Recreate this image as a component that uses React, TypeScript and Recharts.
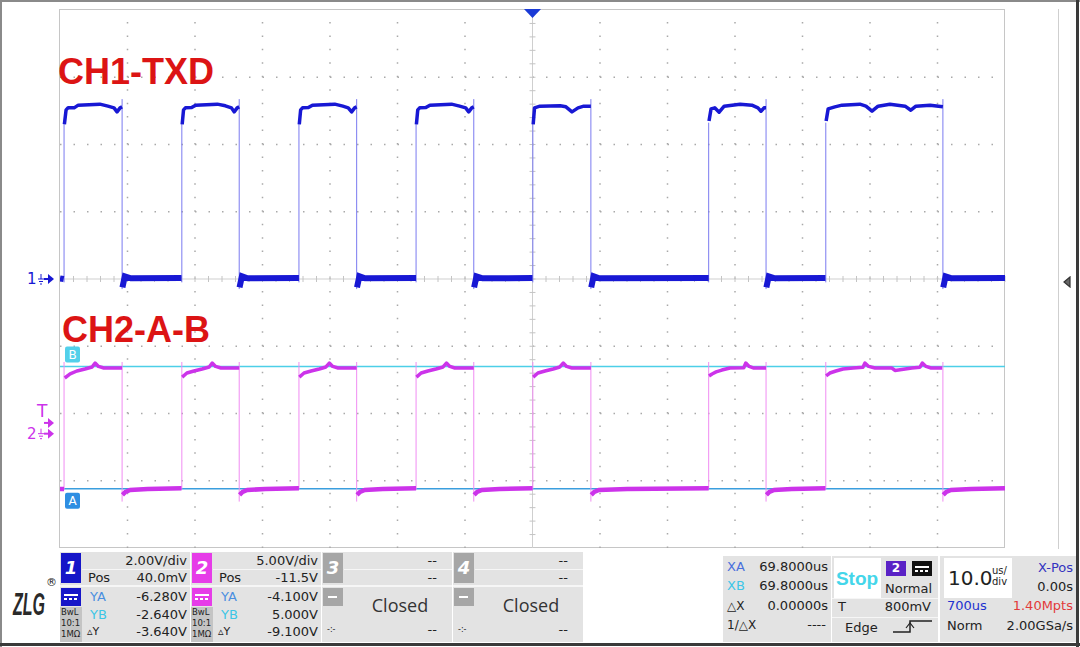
import React from 'react';
import { LineChart, Line, XAxis, YAxis, ReferenceLine } from 'recharts';

// 10 us/div, 14 div across; CH1 2 V/div, CH2 5 V/div with Pos -11.5 V
const timeGrid = [-60, -50, -40, -30, -20, -10, 10, 20, 30, 40, 50, 60];
const ch1VoltGrid = [-6, -4, -2, 2, 4, 6];

// CH1-TXD, high parts of each pulse [us, V]
const ch1High = [
  [[-69.35, 4.6], [-69.1, 5.03], [-68.8, 5.09], [-67.9, 5.09], [-67.3, 5.17], [-64.1, 5.2], [-62.9, 5.14], [-62.0, 5.09], [-61.55, 4.97], [-61.1, 5.09], [-60.8, 5.12]],
  [[-51.9, 4.6], [-51.7, 5.03], [-51.4, 5.09], [-50.5, 5.1], [-49.9, 5.17], [-46.7, 5.2], [-45.5, 5.15], [-44.6, 5.09], [-44.2, 4.97], [-43.75, 5.09], [-43.45, 5.12]],
  [[-34.55, 4.6], [-34.35, 5.03], [-34.05, 5.09], [-33.2, 5.1], [-32.6, 5.17], [-29.3, 5.2], [-28.1, 5.14], [-27.3, 5.09], [-26.8, 4.97], [-26.35, 5.09], [-26.05, 5.12]],
  [[-17.2, 4.6], [-17.0, 5.03], [-16.7, 5.09], [-15.8, 5.1], [-15.2, 5.17], [-12.0, 5.2], [-10.8, 5.14], [-9.9, 5.09], [-9.45, 4.97], [-9.0, 5.09], [-8.7, 5.12]],
  [[0.1, 4.6], [0.3, 5.09], [1.1, 5.14], [4.1, 5.15], [4.95, 5.12], [5.85, 4.97], [6.75, 5.09], [7.6, 5.14], [8.65, 5.14]],
  [[26.15, 4.7], [26.45, 5.06], [27.0, 5.09], [27.65, 4.96], [28.4, 5.14], [30.75, 5.2], [32.5, 5.17], [33.4, 5.09], [33.85, 4.99], [34.3, 5.09], [34.6, 5.09]],
  [[43.5, 4.7], [43.8, 5.06], [44.8, 5.12], [45.85, 5.17], [48.5, 5.2], [49.4, 5.14], [50.3, 4.99], [51.2, 5.14], [52.95, 5.2], [55.2, 5.14], [56.05, 5.02], [56.8, 5.14], [58.9, 5.17], [60.8, 5.12]],
];

const ch1Low = [
  [[-70, 0.02], [-69.45, 0.0]],
  [[-60.75, -0.25], [-60.4, 0.08], [-59.5, 0.02], [-52.0, 0.03]],
  [[-43.4, -0.25], [-43.05, 0.08], [-42.2, 0.02], [-34.6, 0.03]],
  [[-26.0, -0.25], [-25.65, 0.08], [-24.8, 0.02], [-17.25, 0.03]],
  [[-8.65, -0.25], [-8.3, 0.08], [-7.4, 0.02], [0.0, 0.03]],
  [[8.7, -0.25], [9.05, 0.08], [9.9, 0.02], [26.1, 0.03]],
  [[34.65, -0.25], [35.0, 0.08], [35.9, 0.02], [43.4, 0.03]],
  [[60.85, -0.25], [61.2, 0.08], [62.1, 0.02], [70, 0.03]],
];

// [us, from V, to V]
const ch1Edges = [
  [-69.4, -0.1, 4.65], [-60.8, 5.35, -0.3], [-51.95, -0.1, 4.65], [-43.45, 5.35, -0.3],
  [-34.6, -0.1, 4.65], [-26.05, 5.35, -0.3], [-17.25, -0.1, 4.65], [-8.7, 5.35, -0.3],
  [0.05, -0.1, 4.65], [8.65, 5.35, -0.3], [26.1, -0.1, 4.65], [34.6, 5.35, -0.3],
  [43.45, -0.1, 4.65], [60.8, 5.35, -0.3],
];

// CH2-A-B
const ch2High = [
  [[-69.3, 4.14], [-68.5, 4.44], [-67.5, 4.66], [-66.3, 4.81], [-65.25, 4.96], [-64.8, 5.25], [-64.3, 5.0], [-63.5, 4.88], [-60.8, 4.88]],
  [[-51.9, 4.21], [-51.2, 4.51], [-50.15, 4.66], [-48.95, 4.81], [-47.9, 4.96], [-47.45, 5.25], [-46.95, 5.0], [-46.15, 4.88], [-43.45, 4.88]],
  [[-34.55, 4.21], [-33.85, 4.51], [-32.8, 4.66], [-31.6, 4.81], [-30.6, 4.96], [-30.1, 5.25], [-29.6, 5.0], [-28.8, 4.88], [-26.05, 4.88]],
  [[-17.2, 4.21], [-16.5, 4.51], [-15.5, 4.66], [-14.3, 4.81], [-13.25, 4.96], [-12.75, 5.25], [-12.25, 5.0], [-11.5, 4.88], [-8.7, 4.88]],
  [[0.1, 4.21], [0.8, 4.51], [1.85, 4.66], [3.05, 4.81], [4.05, 4.96], [4.55, 5.25], [5.05, 5.0], [5.85, 4.88], [8.65, 4.88]],
  [[26.15, 4.29], [26.6, 4.44], [27.2, 4.59], [28.05, 4.73], [29.25, 4.88], [31.3, 4.9], [31.6, 5.25], [32.1, 5.0], [32.8, 4.88], [34.6, 4.88]],
  [[43.5, 4.29], [44.05, 4.51], [44.95, 4.66], [46.0, 4.81], [47.5, 4.88], [48.95, 4.94], [49.25, 5.25], [49.8, 5.0], [50.75, 4.88], [53.25, 4.88], [53.7, 4.7], [54.45, 4.76], [56.2, 4.88], [57.4, 4.94], [57.75, 5.25], [58.3, 5.0], [59.05, 4.88], [60.7, 4.88]],
];

const ch2Low = [
  [[-70, -4.11], [-69.4, -4.11]],
  [[-60.75, -4.55], [-60.3, -4.33], [-59.6, -4.19], [-57.0, -4.11], [-52.0, -4.05]],
  [[-43.4, -4.55], [-42.95, -4.33], [-42.25, -4.19], [-39.6, -4.11], [-34.6, -4.05]],
  [[-26.0, -4.55], [-25.55, -4.33], [-24.85, -4.19], [-22.2, -4.11], [-17.25, -4.05]],
  [[-8.65, -4.55], [-8.2, -4.33], [-7.5, -4.19], [-4.9, -4.11], [0.0, -4.05]],
  [[8.7, -4.55], [9.15, -4.33], [9.85, -4.19], [14.0, -4.11], [26.1, -4.05]],
  [[34.65, -4.55], [35.1, -4.33], [35.8, -4.19], [38.4, -4.11], [43.4, -4.05]],
  [[60.85, -4.55], [61.3, -4.33], [62.0, -4.19], [65.0, -4.11], [70, -4.05]],
];

const ch2Edges = [
  [-69.4, -4.15, 5.33], [-60.8, 5.33, -5.05], [-51.95, -4.15, 5.33], [-43.45, 5.33, -5.05],
  [-34.6, -4.15, 5.33], [-26.05, 5.33, -5.05], [-17.25, -4.15, 5.33], [-8.7, 5.33, -5.05],
  [0.05, -4.15, 5.33], [8.65, 5.33, -5.05], [26.1, -4.15, 5.33], [34.6, 5.33, -5.05],
  [43.45, -4.15, 5.33], [60.8, 5.33, -5.05],
];

const cursorA = -4.1;
const cursorB = 5.0;
const triggerLevel = 0.8;

const BLUE = '#1818d4';
const MAGENTA = '#cc33ea';

type Pt = { t: number; v: number | null };

const joinSegments = (segs: number[][][]): Pt[] =>
  segs.flatMap((seg) => [
    ...seg.map(([t, v]) => ({ t, v })),
    { t: seg[seg.length - 1][0], v: null },
  ]);

const edgePoints = (edges: number[][]): Pt[] =>
  edges.flatMap(([t, a, b]) => [{ t, v: a }, { t, v: b }, { t, v: null }]);

// minor ticks on the centre cross (every 1/5 div)
const centreTimeTicks = Array.from({ length: 71 }, (_, i) => -70 + i * 2);
const centreVoltTicks = Array.from({ length: 39 }, (_, i) => -7.6 + i * 0.4);

const leftOf = (vb: any) => Math.min(vb.x, vb.x + (vb.width || 0));

const GroundMarker = ({ vb, label, color }: { vb: any; label: string; color: string }) => {
  if (!vb) return null;
  const x0 = leftOf(vb);
  const y0 = vb.y;
  return (
    <g>
      <text x={x0 - 33} y={y0 + 5} fontSize={15} fontFamily="DejaVu Sans" fill={color}>{label}</text>
      <path d={`M${x0 - 19} ${y0 - 5} v5 M${x0 - 22} ${y0} h6 M${x0 - 21} ${y0 + 2.5} h4 M${x0 - 20} ${y0 + 5} h2`} stroke={color} strokeWidth={1} fill="none" />
      <path d={`M${x0 - 16} ${y0} h5`} stroke={color} strokeWidth={2} />
      <polygon points={`${x0 - 12},${y0 - 5} ${x0 - 6},${y0} ${x0 - 12},${y0 + 5}`} fill={color} />
    </g>
  );
};

const TrigMarker = ({ vb }: { vb: any }) => {
  if (!vb) return null;
  const x0 = leftOf(vb);
  const y0 = vb.y;
  return (
    <g>
      <text x={x0 - 23} y={y0 - 6} fontSize={17} fontFamily="DejaVu Sans" fill={MAGENTA}>T</text>
      <path d={`M${x0 - 16} ${y0} h5`} stroke={MAGENTA} strokeWidth={2} />
      <polygon points={`${x0 - 12},${y0 - 5} ${x0 - 6},${y0} ${x0 - 12},${y0 + 5}`} fill={MAGENTA} />
    </g>
  );
};

const CursorTag = ({ vb, text, fill, above }: { vb: any; text: string; fill: string; above: boolean }) => {
  if (!vb) return null;
  const x0 = leftOf(vb) + 5;
  const y0 = above ? vb.y - 20 : vb.y + 4;
  return (
    <g>
      <rect x={x0} y={y0} width={15} height={16} rx={2} fill={fill} />
      <text x={x0 + 7.5} y={y0 + 12.5} textAnchor="middle" fontSize={12} fontFamily="DejaVu Sans" fill="#ffffff">{text}</text>
    </g>
  );
};

const TopTrigger = ({ vb }: { vb: any }) => {
  if (!vb) return null;
  const x0 = vb.x;
  const y0 = Math.min(vb.y, vb.y + (vb.height || 0));
  return <polygon points={`${x0 - 8.5},${y0 - 1} ${x0 + 8.5},${y0 - 1} ${x0},${y0 + 8}`} fill="#1a3ad6" />;
};

const Txt = ({ x, y, children, align = 'left', size = 13, color = '#222', weight = 400, family = 'DejaVu Sans', italic = false }: any) => {
  const pos: any =
    align === 'right' ? { right: 1080 - x } : align === 'center' ? { left: x - 100, width: 200, textAlign: 'center' } : { left: x };
  return (
    <div style={{ position: 'absolute', top: y - size * 0.6, height: size * 1.2, lineHeight: `${size * 1.2}px`, fontSize: size, color, fontWeight: weight, fontFamily: family, fontStyle: italic ? 'italic' : 'normal', whiteSpace: 'nowrap', ...pos }}>
      {children}
    </div>
  );
};

const Box = ({ x, y, w, h, bg, style }: any) => (
  <div style={{ position: 'absolute', left: x, top: y, width: w, height: h, background: bg, ...style }} />
);

const ChannelPanel = ({ x, n, color, vdiv, pos, ya, yb, dy }: any) => (
  <>
    <Box x={x} y={552} w={130} h={90} bg="#e3e3e3" />
    <Box x={x + 1} y={553} w={20} h={30} bg={color} />
    <Txt x={x + 11} y={568} align="center" size={18} color="#fff" weight={700} italic>{n}</Txt>
    <Box x={x + 22} y={569} w={108} h={1} bg="#f6f6f6" />
    <Box x={x} y={585} w={130} h={2} bg="#f6f6f6" />
    <Txt x={x + 127} y={561} align="right">{vdiv}</Txt>
    <Txt x={x + 28} y={578}>Pos</Txt>
    <Txt x={x + 127} y={578} align="right">{pos}</Txt>
    <Box x={x + 1} y={588} w={20} h={18} bg={color} />
    <Box x={x + 4} y={594} w={14} h={1.5} bg="#fff" />
    <Box x={x + 4} y={598} w={14} h={1.5} bg="#fff" style={{ background: 'repeating-linear-gradient(90deg,#fff 0 3px,transparent 3px 5px)' }} />
    <Box x={x} y={607} w={22} h={35} bg="#c4c4c4" />
    <Txt x={x + 1} y={612} size={8.5}>BwL</Txt>
    <Txt x={x + 1} y={623} size={8.5}>10:1</Txt>
    <Txt x={x + 1} y={634} size={8.5}>1MΩ</Txt>
    <Txt x={x + 30} y={597} color="#4a8ee0">YA</Txt>
    <Txt x={x + 127} y={597} align="right">{ya}</Txt>
    <Txt x={x + 30} y={615} color="#3cc6e6">YB</Txt>
    <Txt x={x + 127} y={615} align="right">{yb}</Txt>
    <Txt x={x + 27} y={632} size={11}>▵Y</Txt>
    <Txt x={x + 127} y={632} align="right">{dy}</Txt>
  </>
);

const ClosedPanel = ({ x, n }: any) => (
  <>
    <Box x={x} y={552} w={130} h={90} bg="#e3e3e3" />
    <Box x={x + 1} y={553} w={20} h={30} bg="#a6a6a6" />
    <Txt x={x + 11} y={568} align="center" size={18} color="#fff" weight={700} italic>{n}</Txt>
    <Box x={x + 22} y={569} w={108} h={1} bg="#f6f6f6" />
    <Box x={x} y={585} w={130} h={2} bg="#f6f6f6" />
    <Txt x={x + 115} y={561} align="right">--</Txt>
    <Txt x={x + 115} y={578} align="right">--</Txt>
    <Box x={x + 1} y={588} w={20} h={18} bg="#a6a6a6" />
    <Box x={x + 6} y={596} w={9} h={1.5} bg="#fff" />
    <Txt x={x + 78} y={606} align="center" size={18} color="#333" family="Open Sans">Closed</Txt>
    <Txt x={x + 5} y={630} size={8}>-:-</Txt>
    <Txt x={x + 115} y={630} align="right">--</Txt>
  </>
);

export default function App() {
  return (
    <div style={{ position: 'relative', width: 1080, height: 647, background: '#fff', overflow: 'hidden' }}>
      <style>{'body{margin:0}'}</style>
      {/* outer frame */}
      <Box x={0} y={0} w={1080} h={2} bg="#8a8a8a" />
      <Box x={0} y={0} w={2} h={647} bg="#8a8a8a" />
      <Box x={1076} y={0} w={3} h={647} bg="#3a3a3a" />
      <Box x={0} y={643} w={1080} h={3} bg="#3a3a3a" />
      {/* screen border */}
      <Box x={59} y={9} w={946} h={539} bg="#fff" style={{ border: '1px solid #c6c6c6', boxSizing: 'border-box' }} />
      <Box x={1058} y={9} w={1} h={540} bg="#cfcfcf" />
      <svg style={{ position: 'absolute', left: 1063, top: 276 }} width={10} height={12}>
        <polygon points="7,1 1,6 7,11" fill="#666" stroke="#333" strokeWidth={1.2} />
      </svg>

      <div style={{ position: 'absolute', left: 0, top: 0 }}>
        <LineChart width={1080} height={647} margin={{ top: 10, right: 75, bottom: 99, left: 60 }}>
          <XAxis type="number" dataKey="t" domain={[-70, 70]} allowDataOverflow hide />
          <YAxis yAxisId="ch1" type="number" domain={[-8, 8]} allowDataOverflow hide />
          <YAxis yAxisId="ch2" type="number" domain={[-8.5, 31.5]} allowDataOverflow hide />

          {timeGrid.map((t) => (
            <ReferenceLine key={`gx${t}`} yAxisId="ch1" x={t} stroke="#a9a9a9" strokeWidth={1.5} strokeDasharray="1.5 11.95" />
          ))}
          {ch1VoltGrid.map((v) => (
            <ReferenceLine key={`gy${v}`} yAxisId="ch1" y={v} stroke="#a9a9a9" strokeWidth={1.5} strokeDasharray="1.5 12" />
          ))}
          <ReferenceLine yAxisId="ch1" x={0} stroke="#cfcfcf" label={(p: any) => <TopTrigger vb={p.viewBox} />} />
          <ReferenceLine yAxisId="ch1" y={0} stroke="#cfcfcf" label={(p: any) => <GroundMarker vb={p.viewBox} label="1" color={BLUE} />} />
          {centreTimeTicks.map((t) => (
            <ReferenceLine key={`ct${t}`} yAxisId="ch1" segment={[{ x: t, y: -0.09 }, { x: t, y: 0.09 }]} stroke="#c4c4c4" />
          ))}
          {centreVoltTicks.map((v) => (
            <ReferenceLine key={`cv${v}`} yAxisId="ch1" segment={[{ x: -0.44, y: v }, { x: 0.44, y: v }]} stroke="#c4c4c4" />
          ))}

          <ReferenceLine yAxisId="ch2" y={cursorB} stroke="#4ccfe8" strokeWidth={1.5} label={(p: any) => <CursorTag vb={p.viewBox} text="B" fill="#52d0ea" above />} />
          <ReferenceLine yAxisId="ch2" y={cursorA} stroke="#3a9ede" strokeWidth={1.5} label={(p: any) => <CursorTag vb={p.viewBox} text="A" fill="#2f8ee2" above={false} />} />
          <ReferenceLine yAxisId="ch2" y={triggerLevel} stroke="none" label={(p: any) => <TrigMarker vb={p.viewBox} />} />
          <ReferenceLine yAxisId="ch2" y={0} stroke="none" label={(p: any) => <GroundMarker vb={p.viewBox} label="2" color={MAGENTA} />} />

          <Line yAxisId="ch1" data={edgePoints(ch1Edges)} dataKey="v" stroke="#7a7af0" strokeWidth={1} dot={false} activeDot={false} isAnimationActive={false} />
          <Line yAxisId="ch1" data={joinSegments(ch1Low)} dataKey="v" stroke={BLUE} strokeWidth={6} dot={false} activeDot={false} isAnimationActive={false} />
          <Line yAxisId="ch1" data={joinSegments(ch1High)} dataKey="v" stroke={BLUE} strokeWidth={3.5} strokeLinejoin="round" dot={false} activeDot={false} isAnimationActive={false} />

          <Line yAxisId="ch2" data={edgePoints(ch2Edges)} dataKey="v" stroke="#f08cf2" strokeWidth={1} dot={false} activeDot={false} isAnimationActive={false} />
          <Line yAxisId="ch2" data={joinSegments(ch2Low)} dataKey="v" stroke={MAGENTA} strokeWidth={4.5} dot={false} activeDot={false} isAnimationActive={false} />
          <Line yAxisId="ch2" data={joinSegments(ch2High)} dataKey="v" stroke={MAGENTA} strokeWidth={3.5} strokeLinejoin="round" dot={false} activeDot={false} isAnimationActive={false} />
        </LineChart>
      </div>

      <svg style={{ position: 'absolute', left: 0, top: 0, pointerEvents: 'none' }} width={1080} height={360}>
        <text x={58} y={84} fontSize={36} fontWeight={700} fontFamily="Liberation Sans" fill="#dc1414">CH1-TXD</text>
        <text x={62} y={342} fontSize={36} fontWeight={700} fontFamily="Liberation Sans" fill="#dc1414">CH2-A-B</text>
      </svg>

      {/* status bar */}
      <svg style={{ position: 'absolute', left: 0, top: 570 }} width={58} height={60}>
        <text transform="translate(13 45) scale(0.5 1)" fontSize={32} fontWeight={700} fontStyle="italic" fontFamily="Liberation Sans" fill="#2a2a2a">ZLG</text>
        <text x={46} y={16} fontSize={11} fontFamily="DejaVu Sans" fill="#222">®</text>
      </svg>
      <ChannelPanel x={60} n="1" color="#1616c8" vdiv="2.00V/div" pos="40.0mV" ya="-6.280V" yb="-2.640V" dy="-3.640V" />
      <ChannelPanel x={191} n="2" color="#e63ce8" vdiv="5.00V/div" pos="-11.5V" ya="-4.100V" yb="5.000V" dy="-9.100V" />
      <ClosedPanel x={322} n="3" />
      <ClosedPanel x={453} n="4" />

      {/* cursors */}
      <Box x={723} y={556} w={108} h={86} bg="#e3e3e3" />
      <Txt x={727} y={567} color="#4a70dc">XA</Txt>
      <Txt x={828} y={567} align="right">69.8000us</Txt>
      <Txt x={727} y={586} color="#3ec6e8">XB</Txt>
      <Txt x={828} y={586} align="right">69.8000us</Txt>
      <Txt x={727} y={606} size={12}>△X</Txt>
      <Txt x={828} y={606} align="right">0.00000s</Txt>
      <Txt x={727} y={625} size={12}>1/△X</Txt>
      <Txt x={826} y={625} align="right">----</Txt>

      {/* trigger */}
      <Box x={832} y={556} w={106} h={86} bg="#e3e3e3" />
      <Box x={834} y={558} w={47} h={40} bg="#fff" />
      <Txt x={857} y={579} align="center" size={19} color="#44d6ea" family="Liberation Sans" weight={700}>Stop</Txt>
      <Box x={886} y={561} w={20} h={15} bg="#5a22c6" />
      <Txt x={896} y={568} align="center" size={12} color="#fff" weight={700}>2</Txt>
      <Box x={912} y={561} w={20} h={15} bg="#111" />
      <Box x={915} y={566} w={14} h={1.5} bg="#fff" />
      <Box x={915} y={570} w={14} h={1.5} bg="#fff" style={{ background: 'repeating-linear-gradient(90deg,#fff 0 3px,transparent 3px 5px)' }} />
      <Txt x={932} y={589} align="right">Normal</Txt>
      <Box x={832} y={598} w={106} h={1} bg="#f6f6f6" />
      <Txt x={838} y={607}>T</Txt>
      <Txt x={931} y={607} align="right">800mV</Txt>
      <Box x={832} y={617} w={106} h={1} bg="#f6f6f6" />
      <Txt x={845} y={628}>Edge</Txt>
      <svg style={{ position: 'absolute', left: 892, top: 618 }} width={42} height={18}>
        <path d="M1 14 H18 V3 H40" stroke="#222" strokeWidth={1.5} fill="none" />
        <path d="M14 10 L18 5 L22 10" stroke="#222" strokeWidth={1.2} fill="none" />
      </svg>

      {/* timebase */}
      <Box x={940} y={556} w={136} h={86} bg="#e3e3e3" />
      <Box x={944} y={558} w={68} h={40} bg="#fff" />
      <Txt x={948} y={578} size={20}>10.0</Txt>
      <Txt x={992} y={571} size={10}>us/</Txt>
      <Txt x={992} y={582} size={10}>div</Txt>
      <Txt x={1073} y={568} align="right" color="#3434c0">X-Pos</Txt>
      <Txt x={1073} y={587} align="right">0.00s</Txt>
      <Txt x={947} y={606} color="#2232d0">700us</Txt>
      <Txt x={1073} y={606} align="right" color="#e23a3a">1.40Mpts</Txt>
      <Txt x={947} y={626}>Norm</Txt>
      <Txt x={1073} y={626} align="right">2.00GSa/s</Txt>
    </div>
  );
}
